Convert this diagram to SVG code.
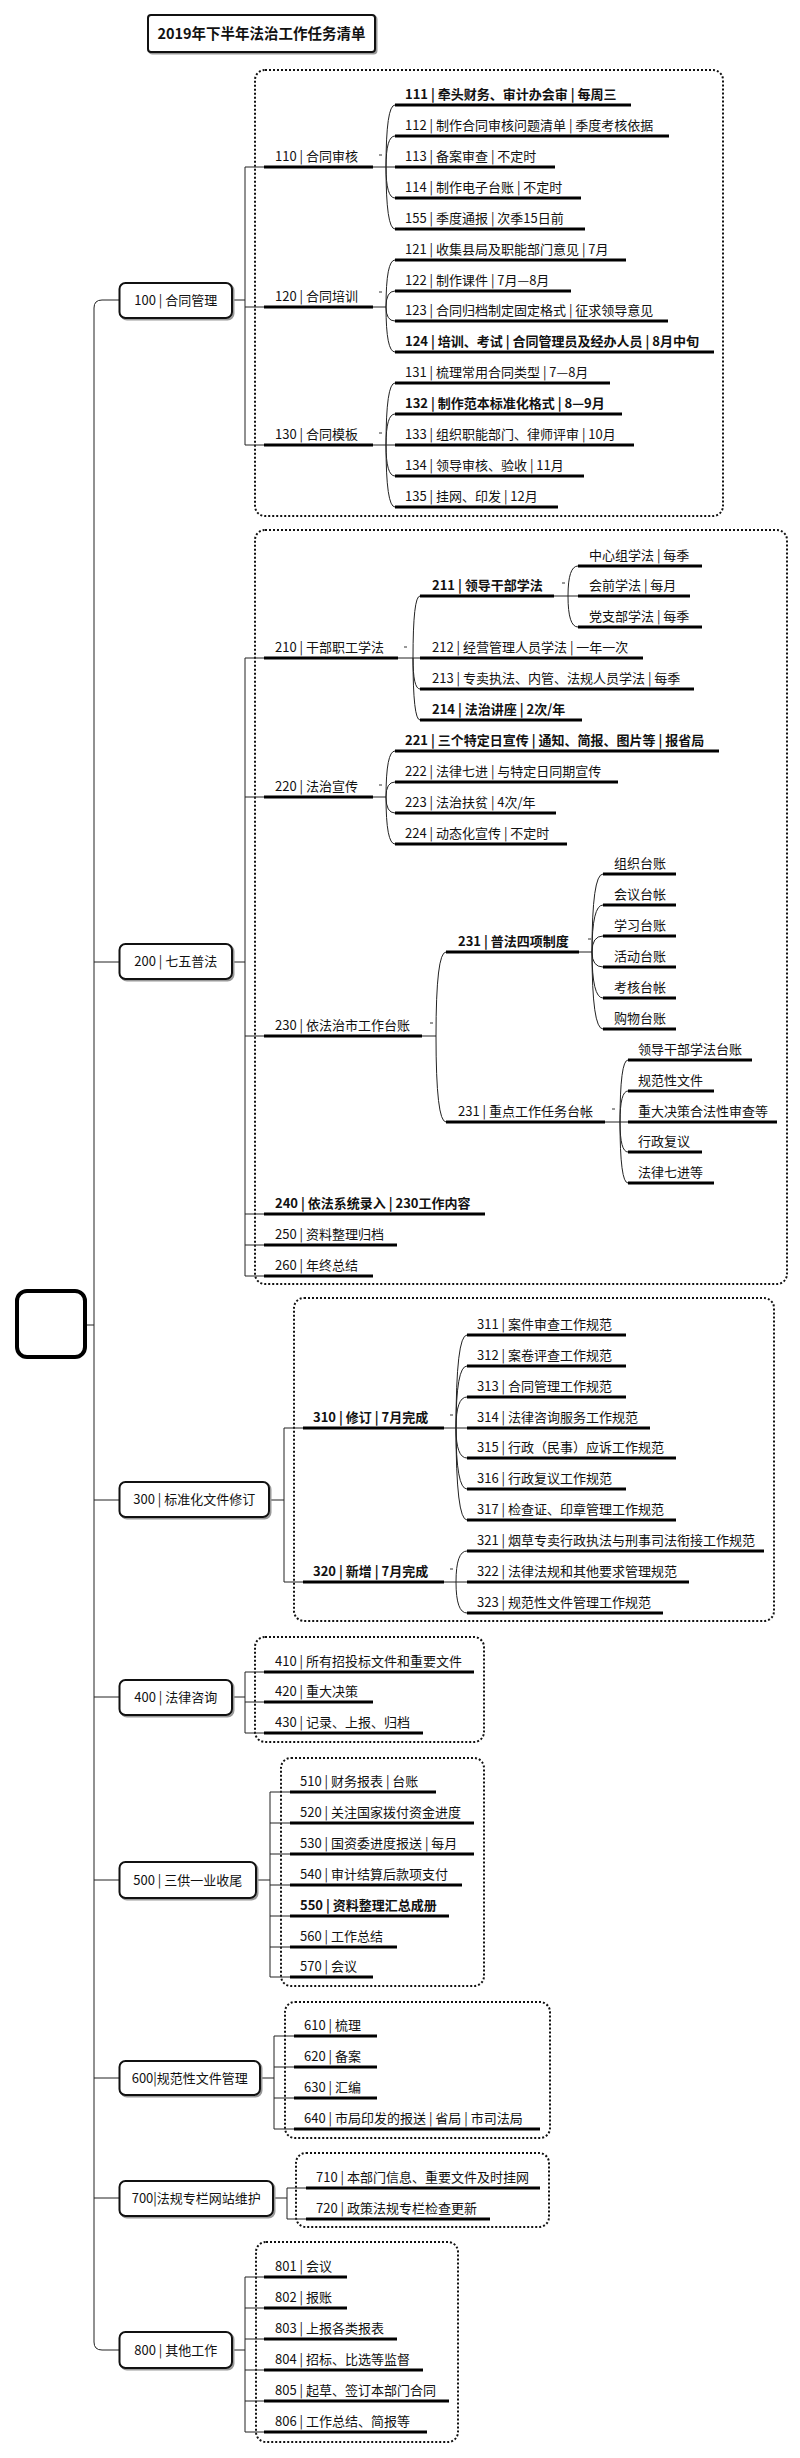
<svg xmlns="http://www.w3.org/2000/svg" width="800" height="2458" viewBox="0 0 800 2458">
<style>
.t{font-family:"Noto Sans CJK SC","Liberation Sans",sans-serif;font-size:13px;fill:#111}
.b{font-weight:bold}
.tt{font-family:"Noto Sans CJK SC","Liberation Sans",sans-serif;font-size:14.5px;fill:#111;font-weight:bold}
.u{stroke:#000;stroke-width:3;fill:none}
.c{stroke:#222;stroke-width:1;fill:none}
.mk{stroke:#333;stroke-width:1;fill:none}
.box{fill:none;stroke:#111;stroke-width:2;stroke-dasharray:2 2}
.node{fill:#fff;stroke:#111;stroke-width:2}
.sh{fill:none;stroke:#999;stroke-width:2}
</style>
<rect width="800" height="2458" fill="#fff"/>

<g id="title">
<rect class="sh" x="149.5" y="16.5" width="227" height="37" rx="3"/>
<rect class="node" x="148" y="15" width="227" height="37" rx="3"/>
<text class="tt" x="261.5" y="38.5" text-anchor="middle">2019年下半年法治工作任务清单</text>
</g>

<g id="frames">
<rect class="box" x="255" y="70" width="468" height="446" rx="10"/>
<rect class="box" x="255" y="530" width="532" height="754" rx="10"/>
<rect class="box" x="294" y="1298" width="480" height="323" rx="10"/>
<rect class="box" x="255" y="1637" width="229" height="105" rx="10"/>
<rect class="box" x="281" y="1758" width="203" height="228" rx="10"/>
<rect class="box" x="285" y="2002" width="265" height="136" rx="10"/>
<rect class="box" x="296" y="2153" width="253" height="74" rx="10"/>
<rect class="box" x="256" y="2242" width="202" height="200" rx="10"/>
</g>

<g id="connectors">
<path class="c" d="M119.5,300 H102 Q94,300 94,308 V2342 Q94,2350 102,2350 H119.5"/>
<path class="c" d="M94,962 H119.5 M94,1500 H119.5 M94,1697 H119.5 M94,1880 H119.5 M94,2078 H119.5 M94,2198 H119.5 M86,1325 H94"/>
<path class="c" d="M232,300 H245 M264,167 H245 V445 H264 M245,307 H264"/>
<path class="c" d="M373,167 H395 M386,167 Q386,105 395,105 M386,167 Q386,136 395,136 M386,167 Q386,198 395,198 M386,167 Q386,229 395,229"/>
<path class="c" d="M373,307 H386 M386,307 Q386,260 395,260 M386,307 Q386,291 395,291 M386,307 Q386,321 395,321 M386,307 Q386,352 395,352"/>
<path class="c" d="M373,445 H395 M386,445 Q386,383 395,383 M386,445 Q386,414 395,414 M386,445 Q386,476 395,476 M386,445 Q386,507 395,507"/>
<path class="c" d="M232,962 H245 M264,658 H245 V1276 H264 M245,797 H264 M245,1036 H264 M245,1214 H264 M245,1245 H264"/>
<path class="c" d="M398,658 H420 M413,658 Q413,596 420,596 M413,658 Q413,689 420,689 M413,658 Q413,720 420,720"/>
<path class="c" d="M554,596 H578 M568,596 Q568,566 578,566 M568,596 Q568,627 578,627"/>
<path class="c" d="M373,797 H386 M386,797 Q386,751 395,751 M386,797 Q386,782 395,782 M386,797 Q386,813 395,813 M386,797 Q386,844 395,844"/>
<path class="c" d="M422,1036 H436 M436,1036 Q436,952 446,952 M436,1036 Q436,1122 446,1122"/>
<path class="c" d="M579,952 H592 M592,952 Q592,874 603,874 M592,952 Q592,905 603,905 M592,952 Q592,936 603,936 M592,952 Q592,967 603,967 M592,952 Q592,998 603,998 M592,952 Q592,1029 603,1029"/>
<path class="c" d="M605,1122 H628 M620,1122 Q620,1060 628,1060 M620,1122 Q620,1091 628,1091 M620,1122 Q620,1152 628,1152 M620,1122 Q620,1183 628,1183"/>
<path class="c" d="M269,1500 H284 M303,1428 H284 V1582 H303"/>
<path class="c" d="M444,1428 H467 M456,1428 Q456,1335 467,1335 M456,1428 Q456,1366 467,1366 M456,1428 Q456,1397 467,1397 M456,1428 Q456,1458 467,1458 M456,1428 Q456,1489 467,1489 M456,1428 Q456,1520 467,1520"/>
<path class="c" d="M444,1582 H467 M456,1582 Q456,1551 467,1551 M456,1582 Q456,1613 467,1613"/>
<path class="c" d="M232,1697 H245 M264,1672 H245 V1733 H264 M245,1702 H264"/>
<path class="c" d="M256,1880 H270 M290,1792 H270 V1977 H290 M270,1823 H290 M270,1854 H290 M270,1885 H290 M270,1916 H290 M270,1947 H290"/>
<path class="c" d="M260,2078 H274 M294,2036 H274 V2129 H294 M274,2067 H294 M274,2098 H294"/>
<path class="c" d="M273,2198 H287 M306,2188 H287 V2219 H306"/>
<path class="c" d="M232,2350 H245 M264,2277 H245 V2432 H264 M245,2308 H264 M245,2339 H264 M245,2370 H264 M245,2401 H264"/>
<path class="mk" d="M379,155 H382 M379,292 H382 M379,433 H382 M404,647 H407 M562,583 H565 M379,785 H382 M430,1023 H433 M588,939 H591 M612,1109 H615 M450,1415 H453 M450,1569 H453"/>
</g>

<g id="root"><rect x="17" y="1291" width="68" height="66" rx="10" fill="#fff" stroke="#000" stroke-width="4"/></g>

<g id="n100"><rect class="sh" x="121" y="284.5" width="112.5" height="35" rx="6"/><rect class="node" x="119.5" y="283" width="112.5" height="35" rx="6"/><text class="t" x="175.75" y="305" text-anchor="middle">100 | 合同管理</text></g>
<g id="n110"><text class="t" x="275" y="161">110 | 合同审核</text><line class="u" x1="264" y1="167" x2="373" y2="167"/></g>
<g id="n111"><text class="t b" x="405" y="99">111 | 牵头财务、审计办会审 | 每周三</text><line class="u" x1="395" y1="105" x2="631" y2="105"/></g>
<g id="n112"><text class="t" x="405" y="130">112 | 制作合同审核问题清单 | 季度考核依据</text><line class="u" x1="395" y1="136" x2="669" y2="136"/></g>
<g id="n113"><text class="t" x="405" y="161">113 | 备案审查 | 不定时</text><line class="u" x1="395" y1="167" x2="555" y2="167"/></g>
<g id="n114"><text class="t" x="405" y="192">114 | 制作电子台账 | 不定时</text><line class="u" x1="395" y1="198" x2="581" y2="198"/></g>
<g id="n155"><text class="t" x="405" y="223">155 | 季度通报 | 次季15日前</text><line class="u" x1="395" y1="229" x2="585" y2="229"/></g>
<g id="n120"><text class="t" x="275" y="301">120 | 合同培训</text><line class="u" x1="264" y1="307" x2="373" y2="307"/></g>
<g id="n121"><text class="t" x="405" y="254">121 | 收集县局及职能部门意见 | 7月</text><line class="u" x1="395" y1="260" x2="626" y2="260"/></g>
<g id="n122"><text class="t" x="405" y="285">122 | 制作课件 | 7月—8月</text><line class="u" x1="395" y1="291" x2="571" y2="291"/></g>
<g id="n123"><text class="t" x="405" y="315">123 | 合同归档制定固定格式 | 征求领导意见</text><line class="u" x1="395" y1="321" x2="668" y2="321"/></g>
<g id="n124"><text class="t b" x="405" y="346">124 | 培训、考试 | 合同管理员及经办人员 | 8月中旬</text><line class="u" x1="395" y1="352" x2="714" y2="352"/></g>
<g id="n130"><text class="t" x="275" y="439">130 | 合同模板</text><line class="u" x1="264" y1="445" x2="373" y2="445"/></g>
<g id="n131"><text class="t" x="405" y="377">131 | 梳理常用合同类型 | 7—8月</text><line class="u" x1="395" y1="383" x2="610" y2="383"/></g>
<g id="n132"><text class="t b" x="405" y="408">132 | 制作范本标准化格式 | 8—9月</text><line class="u" x1="395" y1="414" x2="622" y2="414"/></g>
<g id="n133"><text class="t" x="405" y="439">133 | 组织职能部门、律师评审 | 10月</text><line class="u" x1="395" y1="445" x2="634" y2="445"/></g>
<g id="n134"><text class="t" x="405" y="470">134 | 领导审核、验收 | 11月</text><line class="u" x1="395" y1="476" x2="584" y2="476"/></g>
<g id="n135"><text class="t" x="405" y="501">135 | 挂网、印发 | 12月</text><line class="u" x1="395" y1="507" x2="558" y2="507"/></g>

<g id="n200"><rect class="sh" x="121" y="945.5" width="112.5" height="35" rx="6"/><rect class="node" x="119.5" y="944" width="112.5" height="35" rx="6"/><text class="t" x="175.75" y="966" text-anchor="middle">200 | 七五普法</text></g>
<g id="n210"><text class="t" x="275" y="652">210 | 干部职工学法</text><line class="u" x1="264" y1="658" x2="398" y2="658"/></g>
<g id="n211"><text class="t b" x="432" y="590">211 | 领导干部学法</text><line class="u" x1="420" y1="596" x2="554" y2="596"/></g>
<g id="n211a"><text class="t" x="589" y="560">中心组学法 | 每季</text><line class="u" x1="578" y1="566" x2="702" y2="566"/></g>
<g id="n211b"><text class="t" x="589" y="590">会前学法 | 每月</text><line class="u" x1="578" y1="596" x2="690" y2="596"/></g>
<g id="n211c"><text class="t" x="589" y="621">党支部学法 | 每季</text><line class="u" x1="578" y1="627" x2="702" y2="627"/></g>
<g id="n212"><text class="t" x="432" y="652">212 | 经营管理人员学法 | 一年一次</text><line class="u" x1="420" y1="658" x2="643" y2="658"/></g>
<g id="n213"><text class="t" x="432" y="683">213 | 专卖执法、内管、法规人员学法 | 每季</text><line class="u" x1="420" y1="689" x2="694" y2="689"/></g>
<g id="n214"><text class="t b" x="432" y="714">214 | 法治讲座 | 2次/年</text><line class="u" x1="420" y1="720" x2="582" y2="720"/></g>
<g id="n220"><text class="t" x="275" y="791">220 | 法治宣传</text><line class="u" x1="264" y1="797" x2="373" y2="797"/></g>
<g id="n221"><text class="t b" x="405" y="745">221 | 三个特定日宣传 | 通知、简报、图片等 | 报省局</text><line class="u" x1="395" y1="751" x2="719" y2="751"/></g>
<g id="n222"><text class="t" x="405" y="776">222 | 法律七进 | 与特定日同期宣传</text><line class="u" x1="395" y1="782" x2="618" y2="782"/></g>
<g id="n223"><text class="t" x="405" y="807">223 | 法治扶贫 | 4次/年</text><line class="u" x1="395" y1="813" x2="556" y2="813"/></g>
<g id="n224"><text class="t" x="405" y="838">224 | 动态化宣传 | 不定时</text><line class="u" x1="395" y1="844" x2="567" y2="844"/></g>
<g id="n230"><text class="t" x="275" y="1030">230 | 依法治市工作台账</text><line class="u" x1="264" y1="1036" x2="422" y2="1036"/></g>
<g id="n231a"><text class="t b" x="458" y="946">231 | 普法四项制度</text><line class="u" x1="446" y1="952" x2="579" y2="952"/></g>
<g id="n231a1"><text class="t" x="614" y="868">组织台账</text><line class="u" x1="603" y1="874" x2="676" y2="874"/></g>
<g id="n231a2"><text class="t" x="614" y="899">会议台帐</text><line class="u" x1="603" y1="905" x2="676" y2="905"/></g>
<g id="n231a3"><text class="t" x="614" y="930">学习台账</text><line class="u" x1="603" y1="936" x2="676" y2="936"/></g>
<g id="n231a4"><text class="t" x="614" y="961">活动台账</text><line class="u" x1="603" y1="967" x2="676" y2="967"/></g>
<g id="n231a5"><text class="t" x="614" y="992">考核台帐</text><line class="u" x1="603" y1="998" x2="676" y2="998"/></g>
<g id="n231a6"><text class="t" x="614" y="1023">购物台账</text><line class="u" x1="603" y1="1029" x2="676" y2="1029"/></g>
<g id="n231b"><text class="t" x="458" y="1116">231 | 重点工作任务台帐</text><line class="u" x1="446" y1="1122" x2="605" y2="1122"/></g>
<g id="n231b1"><text class="t" x="638" y="1054">领导干部学法台账</text><line class="u" x1="628" y1="1060" x2="752" y2="1060"/></g>
<g id="n231b2"><text class="t" x="638" y="1085">规范性文件</text><line class="u" x1="628" y1="1091" x2="714" y2="1091"/></g>
<g id="n231b3"><text class="t" x="638" y="1116">重大决策合法性审查等</text><line class="u" x1="628" y1="1122" x2="777" y2="1122"/></g>
<g id="n231b4"><text class="t" x="638" y="1146">行政复议</text><line class="u" x1="628" y1="1152" x2="702" y2="1152"/></g>
<g id="n231b5"><text class="t" x="638" y="1177">法律七进等</text><line class="u" x1="628" y1="1183" x2="714" y2="1183"/></g>
<g id="n240"><text class="t b" x="275" y="1208">240 | 依法系统录入 | 230工作内容</text><line class="u" x1="264" y1="1214" x2="485" y2="1214"/></g>
<g id="n250"><text class="t" x="275" y="1239">250 | 资料整理归档</text><line class="u" x1="264" y1="1245" x2="397" y2="1245"/></g>
<g id="n260"><text class="t" x="275" y="1270">260 | 年终总结</text><line class="u" x1="264" y1="1276" x2="373" y2="1276"/></g>

<g id="n300"><rect class="sh" x="121" y="1483.5" width="149.5" height="35" rx="6"/><rect class="node" x="119.5" y="1482" width="149.5" height="35" rx="6"/><text class="t" x="194.25" y="1504" text-anchor="middle">300 | 标准化文件修订</text></g>
<g id="n310"><text class="t b" x="313" y="1422">310 | 修订 | 7月完成</text><line class="u" x1="303" y1="1428" x2="444" y2="1428"/></g>
<g id="n311"><text class="t" x="477" y="1329">311 | 案件审查工作规范</text><line class="u" x1="467" y1="1335" x2="626" y2="1335"/></g>
<g id="n312"><text class="t" x="477" y="1360">312 | 案卷评查工作规范</text><line class="u" x1="467" y1="1366" x2="626" y2="1366"/></g>
<g id="n313"><text class="t" x="477" y="1391">313 | 合同管理工作规范</text><line class="u" x1="467" y1="1397" x2="626" y2="1397"/></g>
<g id="n314"><text class="t" x="477" y="1422">314 | 法律咨询服务工作规范</text><line class="u" x1="467" y1="1428" x2="650" y2="1428"/></g>
<g id="n315"><text class="t" x="477" y="1452">315 | 行政（民事）应诉工作规范</text><line class="u" x1="467" y1="1458" x2="676" y2="1458"/></g>
<g id="n316"><text class="t" x="477" y="1483">316 | 行政复议工作规范</text><line class="u" x1="467" y1="1489" x2="626" y2="1489"/></g>
<g id="n317"><text class="t" x="477" y="1514">317 | 检查证、印章管理工作规范</text><line class="u" x1="467" y1="1520" x2="676" y2="1520"/></g>
<g id="n320"><text class="t b" x="313" y="1576">320 | 新增 | 7月完成</text><line class="u" x1="303" y1="1582" x2="444" y2="1582"/></g>
<g id="n321"><text class="t" x="477" y="1545">321 | 烟草专卖行政执法与刑事司法衔接工作规范</text><line class="u" x1="467" y1="1551" x2="764" y2="1551"/></g>
<g id="n322"><text class="t" x="477" y="1576">322 | 法律法规和其他要求管理规范</text><line class="u" x1="467" y1="1582" x2="689" y2="1582"/></g>
<g id="n323"><text class="t" x="477" y="1607">323 | 规范性文件管理工作规范</text><line class="u" x1="467" y1="1613" x2="663" y2="1613"/></g>

<g id="n400"><rect class="sh" x="121" y="1681.5" width="112.5" height="35" rx="6"/><rect class="node" x="119.5" y="1680" width="112.5" height="35" rx="6"/><text class="t" x="175.75" y="1702" text-anchor="middle">400 | 法律咨询</text></g>
<g id="n410"><text class="t" x="275" y="1666">410 | 所有招投标文件和重要文件</text><line class="u" x1="264" y1="1672" x2="474" y2="1672"/></g>
<g id="n420"><text class="t" x="275" y="1696">420 | 重大决策</text><line class="u" x1="264" y1="1702" x2="373" y2="1702"/></g>
<g id="n430"><text class="t" x="275" y="1727">430 | 记录、上报、归档</text><line class="u" x1="264" y1="1733" x2="423" y2="1733"/></g>

<g id="n500"><rect class="sh" x="121" y="1863.5" width="136.5" height="36" rx="6"/><rect class="node" x="119.5" y="1862" width="136.5" height="36" rx="6"/><text class="t" x="187.75" y="1884.5" text-anchor="middle">500 | 三供一业收尾</text></g>
<g id="n510"><text class="t" x="300" y="1786">510 | 财务报表 | 台账</text><line class="u" x1="290" y1="1792" x2="436" y2="1792"/></g>
<g id="n520"><text class="t" x="300" y="1817">520 | 关注国家拨付资金进度</text><line class="u" x1="290" y1="1823" x2="474" y2="1823"/></g>
<g id="n530"><text class="t" x="300" y="1848">530 | 国资委进度报送 | 每月</text><line class="u" x1="290" y1="1854" x2="474" y2="1854"/></g>
<g id="n540"><text class="t" x="300" y="1879">540 | 审计结算后款项支付</text><line class="u" x1="290" y1="1885" x2="462" y2="1885"/></g>
<g id="n550"><text class="t b" x="300" y="1910">550 | 资料整理汇总成册</text><line class="u" x1="290" y1="1916" x2="449" y2="1916"/></g>
<g id="n560"><text class="t" x="300" y="1941">560 | 工作总结</text><line class="u" x1="290" y1="1947" x2="397" y2="1947"/></g>
<g id="n570"><text class="t" x="300" y="1971">570 | 会议</text><line class="u" x1="290" y1="1977" x2="373" y2="1977"/></g>

<g id="n600"><rect class="sh" x="121" y="2062.5" width="140.5" height="34" rx="6"/><rect class="node" x="119.5" y="2061" width="140.5" height="34" rx="6"/><text class="t" x="189.75" y="2082.5" text-anchor="middle">600|规范性文件管理</text></g>
<g id="n610"><text class="t" x="304" y="2030">610 | 梳理</text><line class="u" x1="294" y1="2036" x2="377" y2="2036"/></g>
<g id="n620"><text class="t" x="304" y="2061">620 | 备案</text><line class="u" x1="294" y1="2067" x2="377" y2="2067"/></g>
<g id="n630"><text class="t" x="304" y="2092">630 | 汇编</text><line class="u" x1="294" y1="2098" x2="377" y2="2098"/></g>
<g id="n640"><text class="t" x="304" y="2123">640 | 市局印发的报送 | 省局 | 市司法局</text><line class="u" x1="294" y1="2129" x2="540" y2="2129"/></g>

<g id="n700"><rect class="sh" x="121" y="2182.5" width="153.5" height="35" rx="6"/><rect class="node" x="119.5" y="2181" width="153.5" height="35" rx="6"/><text class="t" x="196.25" y="2203" text-anchor="middle">700|法规专栏网站维护</text></g>
<g id="n710"><text class="t" x="316" y="2182">710 | 本部门信息、重要文件及时挂网</text><line class="u" x1="306" y1="2188" x2="540" y2="2188"/></g>
<g id="n720"><text class="t" x="316" y="2213">720 | 政策法规专栏检查更新</text><line class="u" x1="306" y1="2219" x2="490" y2="2219"/></g>

<g id="n800"><rect class="sh" x="121" y="2333.5" width="112.5" height="36" rx="6"/><rect class="node" x="119.5" y="2332" width="112.5" height="36" rx="6"/><text class="t" x="175.75" y="2354.5" text-anchor="middle">800 | 其他工作</text></g>
<g id="n801"><text class="t" x="275" y="2271">801 | 会议</text><line class="u" x1="264" y1="2277" x2="347" y2="2277"/></g>
<g id="n802"><text class="t" x="275" y="2302">802 | 报账</text><line class="u" x1="264" y1="2308" x2="347" y2="2308"/></g>
<g id="n803"><text class="t" x="275" y="2333">803 | 上报各类报表</text><line class="u" x1="264" y1="2339" x2="397" y2="2339"/></g>
<g id="n804"><text class="t" x="275" y="2364">804 | 招标、比选等监督</text><line class="u" x1="264" y1="2370" x2="423" y2="2370"/></g>
<g id="n805"><text class="t" x="275" y="2395">805 | 起草、签订本部门合同</text><line class="u" x1="264" y1="2401" x2="449" y2="2401"/></g>
<g id="n806"><text class="t" x="275" y="2426">806 | 工作总结、简报等</text><line class="u" x1="264" y1="2432" x2="427" y2="2432"/></g>
</svg>
